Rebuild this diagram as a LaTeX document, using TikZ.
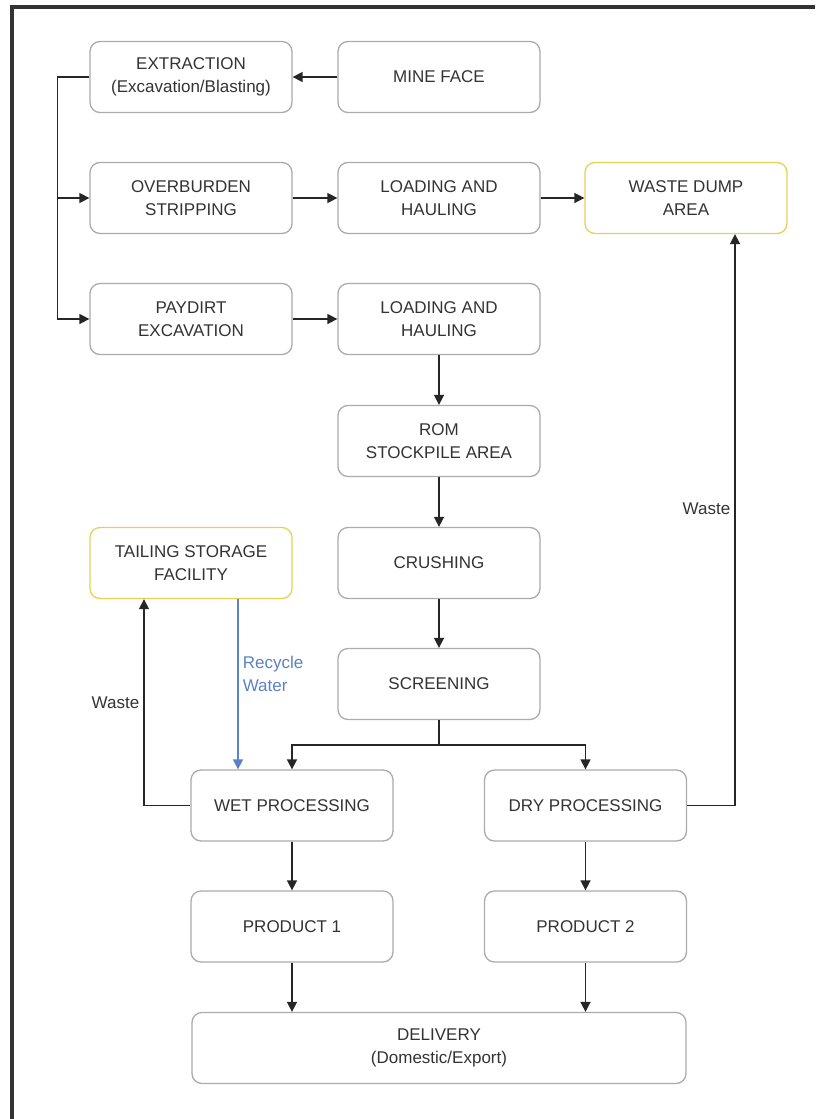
\documentclass[tikz,border=0pt]{standalone}
\usepackage{fontspec}
\setmainfont{Liberation Sans}
\usetikzlibrary{arrows.meta}
\definecolor{boxgray}{HTML}{ABABAB}
\definecolor{tailyellow}{HTML}{E6D058}
\definecolor{waterblue}{HTML}{5B82C4}
\definecolor{inkgray}{HTML}{333333}
\tikzset{
    stage/.style={draw=boxgray,line width=1.3pt,rounded corners=10pt,
        minimum width=202pt,minimum height=71pt,align=center,text=inkgray,
        font=\fontsize{17}{22.5}\selectfont},
    pond/.style={stage,draw=tailyellow},
    flow/.style={line width=1.6pt,draw=black!85,-{Triangle[length=10pt,width=10pt]}},
    link/.style={line width=1.6pt,draw=black!85},
    recycle/.style={flow,draw=waterblue,-{Triangle[length=10pt,width=10pt,fill=waterblue]}},
    tag/.style={text=inkgray,font=\fontsize{17}{22.5}\selectfont,inner sep=4pt}
}
\begin{document}
\begin{tikzpicture}[x=1pt,y=-1pt]
        \useasboundingbox (0,0) rectangle (815,1119);
        %% Frame
        \draw[line width=3.5pt,black!80] (815,7) -- (12,7) -- (12,1119);
        %% Mining
        \node[stage] (extraction) at (191,77) {EXTRACTION\\(Excavation/Blasting)};
        \node[stage] (mineface) at (439,77) {MINE FACE};
        \node[stage] (overburden) at (191,198) {OVERBURDEN\\STRIPPING};
        \node[stage] (loadA) at (439,198) {LOADING AND\\HAULING};
        \node[pond] (wastedump) at (686,198) {WASTE DUMP\\AREA};
        \node[stage] (paydirt) at (191,319) {PAYDIRT\\EXCAVATION};
        \node[stage] (loadB) at (439,319) {LOADING AND\\HAULING};
        %% Plant
        \node[stage] (rom) at (439,441) {ROM\\STOCKPILE AREA};
        \node[pond] (tailing) at (191,563) {TAILING STORAGE\\FACILITY};
        \node[stage] (crushing) at (439,563) {CRUSHING};
        \node[stage] (screening) at (439,684) {SCREENING};
        \node[stage] (wet) at (292,805.5) {WET PROCESSING};
        \node[stage] (dry) at (585.5,805.5) {DRY PROCESSING};
        %% Products
        \node[stage] (prodA) at (292,926.5) {PRODUCT 1};
        \node[stage] (prodB) at (585.5,926.5) {PRODUCT 2};
        \node[stage,minimum width=494pt] (delivery) at (439,1048) {DELIVERY\\(Domestic/Export)};
        %% Connectors
        \draw[flow] (mineface) -- (extraction);
        \draw[flow] (extraction.west) -| ([xshift=-32pt]paydirt.west) -- (paydirt.west);
        \draw[flow] ([xshift=-32pt]overburden.west) -- (overburden.west);
        \draw[flow] (overburden) -- (loadA);
        \draw[flow] (loadA) -- (wastedump);
        \draw[flow] (paydirt) -- (loadB);
        \foreach \from/\to in {loadB/rom,rom/crushing,crushing/screening,wet/prodA,dry/prodB}
            \draw[flow] (\from) -- (\to);
        \coordinate (fork) at (439,745);
        \draw[link] (screening) -- (fork);
        \draw[flow] (fork) -| (wet);
        \draw[flow] (fork) -| (dry);
        \draw[flow] (wet.west) -| ([xshift=-47pt]tailing.south)
            node[tag,pos=0.75,left] {Waste};
        \draw[recycle] ([xshift=47pt]tailing.south) -- ([xshift=47pt]tailing.south |- wet.north)
            node[tag,text=waterblue,pos=0.44,right,align=left] {Recycle\\Water};
        \draw[flow] (dry.east) -| ([xshift=49pt]wastedump.south)
            node[tag,pos=0.76,left] {Waste};
        \draw[flow] (prodA) -- (prodA |- delivery.north);
        \draw[flow] (prodB) -- (prodB |- delivery.north);
    \end{tikzpicture}
\end{document}
